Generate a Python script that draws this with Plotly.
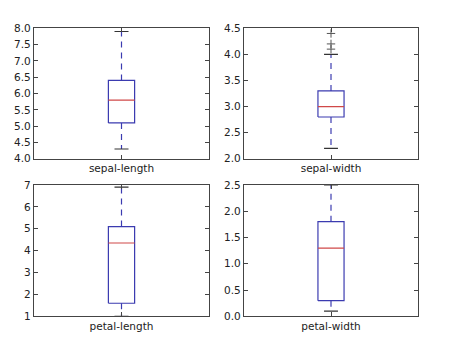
import plotly.graph_objects as go

names = ["sepal-length", "sepal-width", "petal-length", "petal-width"]
lower_whisker = [4.3, 2.2, 1.0, 0.1]
q1 = [5.1, 2.8, 1.6, 0.3]
median = [5.8, 3.0, 4.35, 1.3]
q3 = [6.4, 3.3, 5.1, 1.8]
upper_whisker = [7.9, 4.0, 6.9, 2.5]
fliers = [[], [4.4, 4.1, 4.2], [], []]
y_ranges = [[4.0, 8.0], [2.0, 4.5], [1, 7], [0.0, 2.5]]
y_dticks = [0.5, 0.5, 1, 0.5]
y_formats = [".1f", ".1f", "d", ".1f"]

BOX_BLUE = "#3b3bb0"
MED_RED = "#d04848"
FRAME = "#444444"
FONT = "DejaVu Sans"

W, H = 452, 364
xdom = [[34 / W, 209 / W], [244 / W, 418 / W]]
ydom = [[1 - 158 / H, 1 - 23 / H], [1 - 321 / H, 1 - 185 / H]]

fig = go.Figure()
half_box = 0.075
half_cap = 0.04
center = 1.0

for i, name in enumerate(names):
    ax = "" if i == 0 else str(i + 1)
    xa, ya = "x" + ax, "y" + ax
    # box
    fig.add_trace(go.Scatter(
        x=[center - half_box, center + half_box, center + half_box, center - half_box, center - half_box],
        y=[q1[i], q1[i], q3[i], q3[i], q1[i]],
        mode="lines", line=dict(color=BOX_BLUE, width=1.2),
        xaxis=xa, yaxis=ya, showlegend=False, hoverinfo="skip"))
    # median
    fig.add_trace(go.Scatter(
        x=[center - half_box, center + half_box], y=[median[i], median[i]],
        mode="lines", line=dict(color=MED_RED, width=1.2),
        xaxis=xa, yaxis=ya, showlegend=False, hoverinfo="skip"))
    # whiskers
    fig.add_trace(go.Scatter(
        x=[center, center, None, center, center],
        y=[q3[i], upper_whisker[i], None, q1[i], lower_whisker[i]],
        mode="lines", line=dict(color=BOX_BLUE, width=1.2, dash="6px,5px"),
        xaxis=xa, yaxis=ya, showlegend=False, hoverinfo="skip"))
    # caps
    fig.add_trace(go.Scatter(
        x=[center - half_cap, center + half_cap, None, center - half_cap, center + half_cap],
        y=[upper_whisker[i], upper_whisker[i], None, lower_whisker[i], lower_whisker[i]],
        mode="lines", line=dict(color="#333333", width=1.2),
        xaxis=xa, yaxis=ya, showlegend=False, hoverinfo="skip"))
    # fliers
    if fliers[i]:
        fig.add_trace(go.Scatter(
            x=[center] * len(fliers[i]), y=fliers[i], mode="markers",
            marker=dict(symbol="cross-thin", size=6, line=dict(color="#555555", width=1)),
            xaxis=xa, yaxis=ya, showlegend=False, hoverinfo="skip"))

layout = dict(
    width=W, height=H, margin=dict(l=0, r=0, t=0, b=0),
    plot_bgcolor="white", paper_bgcolor="white",
    font=dict(family=FONT, size=10, color="#222222"),
)
for i, name in enumerate(names):
    ax = "" if i == 0 else str(i + 1)
    r, c = divmod(i, 2)
    layout["xaxis" + ax] = dict(
        domain=xdom[c], anchor="y" + ax, range=[0.5, 1.5],
        tickmode="array", tickvals=[center], ticktext=[name],
        ticks="inside", ticklen=4, tickcolor=FRAME, mirror="ticks",
        showline=True, linecolor=FRAME, linewidth=1.2, showgrid=False, zeroline=False,
        tickfont=dict(size=10.5, family=FONT))
    layout["yaxis" + ax] = dict(
        domain=ydom[r], anchor="x" + ax, range=y_ranges[i],
        dtick=y_dticks[i], tick0=y_ranges[i][0], tickformat=y_formats[i],
        ticks="inside", ticklen=4, tickcolor=FRAME, mirror="ticks",
        showline=True, linecolor=FRAME, linewidth=1.2, showgrid=False, zeroline=False,
        tickfont=dict(size=10.5, family=FONT))
fig.update_layout(**layout)
fig.write_html("out.html")
